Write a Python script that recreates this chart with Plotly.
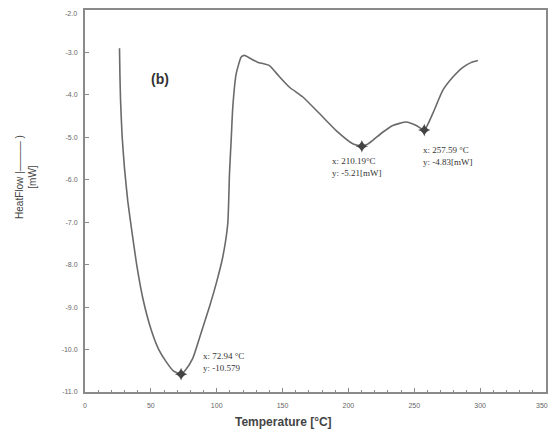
import plotly.graph_objects as go

# DSC curve
temperature = [26.2, 26.5, 27.0, 28.2, 30.0, 32.5, 35.8, 39.3, 43.9, 50.3, 56.0, 61.7, 67.0, 72.94,
               76.3, 81.9, 88.0, 94.5, 100.0, 104.6, 108.4, 109.7, 111.0, 112.2, 114.8, 118.6, 121.1,
               126.0, 131.0, 140.0, 147.0, 155.3, 165.4, 178.0, 190.7, 203.3, 210.19,
               214.0, 218.5, 226.0, 233.7, 243.9, 251.5, 257.59, 264.0, 271.7, 279.3, 286.9, 293.0, 298.3]
heat_flow = [-2.90, -3.5, -4.13, -4.98, -5.73, -6.51, -7.26, -8.01, -8.79, -9.54, -10.0, -10.29, -10.50, -10.579,
             -10.48, -10.20, -9.62, -8.99, -8.40, -7.82, -7.03, -5.85, -5.05, -4.29, -3.50, -3.11, -3.07,
             -3.15, -3.23, -3.31, -3.55, -3.82, -4.05, -4.44, -4.84, -5.15, -5.21,
             -5.17, -5.07, -4.88, -4.72, -4.64, -4.72, -4.83, -4.44, -3.89, -3.58, -3.35, -3.24, -3.19]

peak_t = [72.94, 210.19, 257.59]
peak_h = [-10.579, -5.21, -4.83]
peak_labels = ["x: 72.94 °C<br>y: -10.579", "x: 210.19°C<br>y: -5.21[mW]", "x: 257.59 °C<br>y: -4.83[mW]"]

x_ticks = [0, 50, 100, 150, 200, 250, 300, 350]
y_ticks = [-2.0, -3.0, -4.0, -5.0, -6.0, -7.0, -8.0, -9.0, -10.0, -11.0]

fig = go.Figure()
fig.add_trace(go.Scatter(x=temperature, y=heat_flow, mode="lines",
                         line=dict(color="#6a6a6a", width=1.6, shape="spline", smoothing=0.5),
                         hoverinfo="skip"))
fig.add_trace(go.Scatter(x=peak_t, y=peak_h, mode="markers",
                         marker=dict(symbol="star-diamond", size=9, color="#444444"),
                         hoverinfo="skip"))

ann_shift = [(20, 25), (-32, -8), (-3, -13)]
for t, h, lab, (dx, dy) in zip(peak_t, peak_h, peak_labels, ann_shift):
    fig.add_annotation(x=t, y=h, text=lab, showarrow=False, xanchor="left", yanchor="top",
                       xshift=dx, yshift=dy, align="left",
                       font=dict(family="Liberation Serif", size=9, color="#333333"))

tick_font = dict(family="Liberation Sans", size=7, color="#666666")

# edge tick labels sit just inside the frame corners (kept inside the page)
fig.add_annotation(x=0, xref="paper", y=y_ticks[0], yref="y", text=f"{y_ticks[0]:.1f}",
                   showarrow=False, xanchor="right", yanchor="middle", xshift=-6, yshift=-3,
                   font=tick_font)
fig.add_annotation(x=x_ticks[-1], xref="x", y=0, yref="paper", text=str(x_ticks[-1]),
                   showarrow=False, xanchor="center", yanchor="top", xshift=-4, yshift=-8,
                   font=tick_font)

fig.add_annotation(x=0.138, y=0.846, xref="paper", yref="paper", text="<b>(b)</b>", showarrow=False,
                   font=dict(family="Liberation Sans", size=14, color="#333333"))
fig.add_annotation(x=-0.128, y=0.563, xref="paper", yref="paper",
                   text="HeatFlow |——— )<br>[mW]", textangle=-90, showarrow=False,
                   xanchor="center", yanchor="middle",
                   font=dict(family="Liberation Sans", size=10, color="#444444"))
fig.add_annotation(x=0.43, y=-0.078, xref="paper", yref="paper", text="<b>Temperature [°C]</b>",
                   showarrow=False, yanchor="middle",
                   font=dict(family="Liberation Sans", size=12, color="#444444"))

axis_common = dict(showline=True, linecolor="#8a8a8a", linewidth=2, mirror=True,
                   showgrid=False, zeroline=False, ticks="inside", ticklen=4,
                   tickcolor="#8a8a8a", tickfont=tick_font)

y_ticktext = [""] + [f"{v:.1f}" for v in y_ticks[1:]]
x_ticktext = [str(v) for v in x_ticks[:-1]] + [""]

# page body has an 8px default margin, so the figure is sized to fit the window
fig.update_layout(
    width=548, height=428,
    margin=dict(l=77, r=10, t=2, b=44, autoexpand=False),
    paper_bgcolor="white", plot_bgcolor="white",
    showlegend=False,
    xaxis=dict(range=[0, 350], tickvals=x_ticks, ticktext=x_ticktext,
               minor=dict(ticks="inside", ticklen=2, dtick=10, tickcolor="#8a8a8a"),
               ticklabelstandoff=6, automargin=False, **axis_common),
    yaxis=dict(range=[-11.0, -2.0], tickvals=y_ticks, ticktext=y_ticktext,
               ticklabelstandoff=4, automargin=False, **axis_common),
)

fig.write_html("out.html")
